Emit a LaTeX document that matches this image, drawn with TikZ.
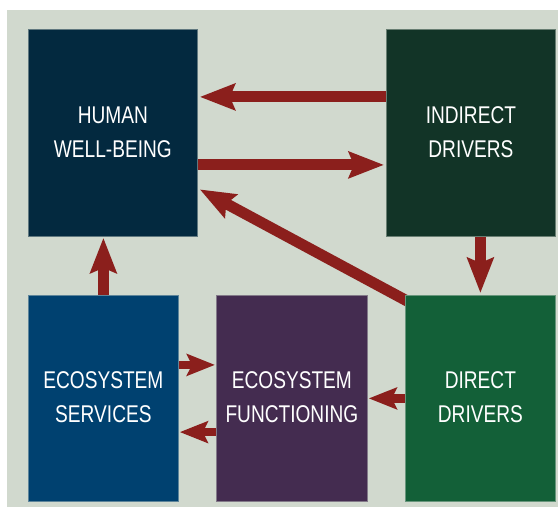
\documentclass[tikz,border=0pt]{standalone}
\usepackage{fontspec}
\setmainfont{Liberation Sans}[FakeStretch=0.79]
\usetikzlibrary{arrows.meta,calc}
\definecolor{bgc}{HTML}{D1D9CE}
\definecolor{hwc}{HTML}{03293F}
\definecolor{idc}{HTML}{123427}
\definecolor{esc}{HTML}{004170}
\definecolor{efc}{HTML}{442C50}
\definecolor{ddc}{HTML}{136038}
\definecolor{arc}{HTML}{8B1F1C}
\pgfdeclarelayer{bglayer}
\pgfdeclarelayer{arrlayer}
\pgfsetlayers{bglayer,arrlayer,main}
\tikzset{
  box/.style={anchor=north west, inner sep=0pt, line width=0.8pt},
  boxtext/.style={text=white, align=center, font=\fontsize{24.2}{34}\selectfont},
  bigarrow/.style={draw=arc, line width=11pt,
    -{Stealth[length=35pt,width=26pt,inset=5pt,fill=arc]}},
  smallarrow/.style={draw=arc, line width=8.5pt,
    -{Stealth[length=28pt,width=21.5pt,inset=5pt,fill=arc]}}
}
\begin{document}
\begin{tikzpicture}[x=1pt,y=-1pt]
\useasboundingbox (0,0) rectangle (558,507);
\begin{pgfonlayer}{bglayer}
\fill[white] (0,0) rectangle (558,507);
\fill[bgc] (7,10) rectangle (558,507);
\end{pgfonlayer}
\node[box, fill=hwc, draw=hwc!55!bgc, minimum width=169pt, minimum height=207pt] (hw) at (28,29) {};
\node[boxtext] at ([yshift=1pt]hw.center) (hwt) {HUMAN\\WELL-BEING};
\node[box, fill=idc, draw=idc!55!bgc, minimum width=169pt, minimum height=207pt] (ind) at (386,29) {};
\node[boxtext] at ([yshift=1pt]ind.center) (indt) {INDIRECT\\DRIVERS};
\node[box, fill=esc, draw=esc!55!bgc, minimum width=150pt, minimum height=206pt] (es) at (28,295) {};
\node[boxtext] at ([yshift=1pt]es.center) (est) {ECOSYSTEM\\SERVICES};
\node[box, fill=efc, draw=efc!55!bgc, minimum width=151pt, minimum height=206pt] (ef) at (216,295) {};
\node[boxtext] at ([yshift=1pt]ef.center) (eft) {ECOSYSTEM\\FUNCTIONING};
\node[box, fill=ddc, draw=ddc!55!bgc, minimum width=150pt, minimum height=206pt] (dd) at (405,295) {};
\node[boxtext] at ([yshift=1pt]dd.center) (ddt) {DIRECT\\DRIVERS};
\begin{pgfonlayer}{arrlayer}
\draw[bigarrow] ([yshift=36pt]ind.west) -- ([xshift=2pt,yshift=36pt]hw.east);
\draw[bigarrow] ([yshift=-32pt]hw.east) -- ([xshift=-2pt,yshift=-32pt]ind.west);
\draw[bigarrow] ([xshift=9pt,yshift=-9.7pt]dd.north west) -- ([xshift=2pt,yshift=-56.5pt]hw.east);
\draw[bigarrow] (es.north) -- ([yshift=-1pt]es.north |- hw.south);
\draw[bigarrow] (dd.north |- ind.south) -- ([yshift=2pt]dd.north);
\draw[smallarrow] ([yshift=33.5pt]es.east) -- ([xshift=-1pt,yshift=33.5pt]ef.west);
\draw[smallarrow] ([yshift=-33.7pt]ef.west) -- ([xshift=1pt,yshift=-33.7pt]es.east);
\draw[smallarrow] (dd.west) -- ([xshift=1pt]ef.east);
\end{pgfonlayer}
\end{tikzpicture}
\end{document}
